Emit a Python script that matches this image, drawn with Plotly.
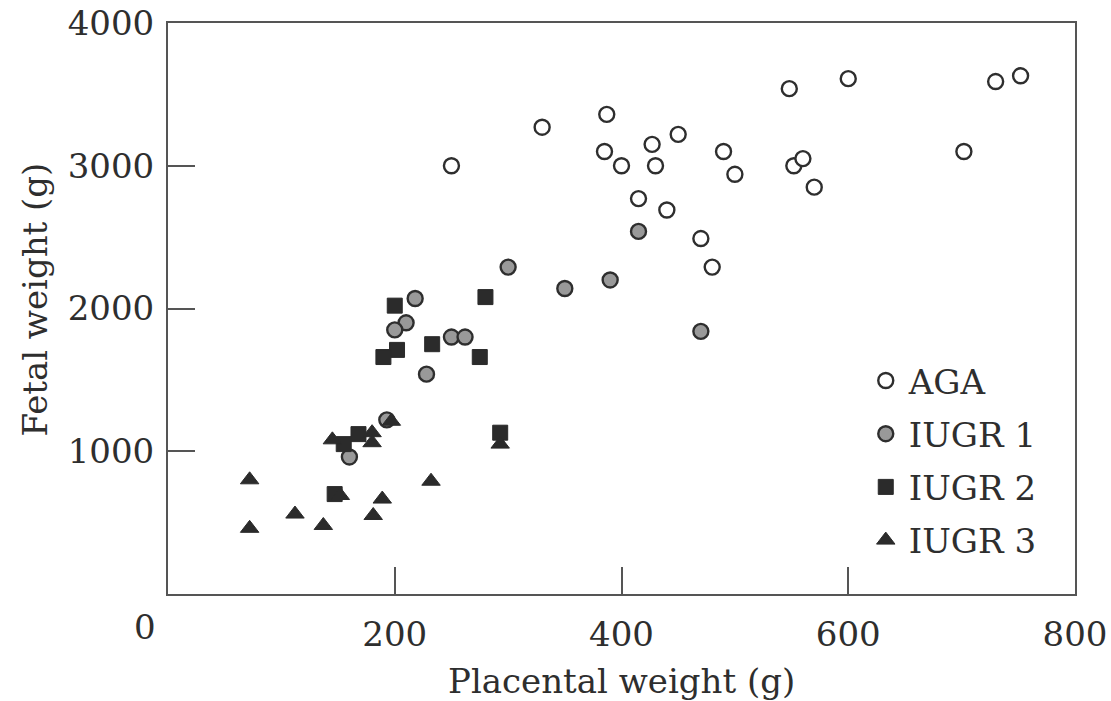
import plotly.graph_objects as go

# AGA (open circles)
aga_x = [250, 330, 387, 385, 400, 427, 430, 450, 490, 500, 415, 440, 470, 480,
         548, 600, 552, 560, 570, 730, 752, 702]
aga_y = [3000, 3270, 3360, 3100, 3000, 3150, 3000, 3220, 3100, 2940, 2770, 2690,
         2490, 2290, 3540, 3610, 3000, 3050, 2850, 3590, 3630, 3100]

# IUGR 1 (grey circles)
iugr1_x = [415, 300, 350, 390, 470, 218, 210, 200, 250, 262, 228, 193, 160]
iugr1_y = [2540, 2290, 2140, 2200, 1840, 2070, 1900, 1850, 1800, 1800, 1540, 1220, 960]

# IUGR 2 (black squares)
iugr2_x = [280, 200, 202, 190, 233, 275, 293, 168, 155, 147]
iugr2_y = [2080, 2020, 1710, 1660, 1750, 1660, 1130, 1120, 1050, 700]

# IUGR 3 (black triangles)
iugr3_x = [197, 293, 145, 180, 180, 72, 72, 112, 137, 152, 189, 181, 232]
iugr3_y = [1210, 1050, 1080, 1130, 1060, 800, 460, 560, 480, 690, 665, 550, 790]

FONT = "DejaVu Serif"
DARK = "#2e2e2e"
FS = 34

fig = go.Figure()
fig.add_trace(go.Scatter(x=aga_x, y=aga_y, mode="markers", name="AGA", legendgroup="a",
                         marker=dict(symbol="circle", size=15, color="white",
                                     line=dict(color=DARK, width=2.4))))
fig.add_trace(go.Scatter(x=iugr1_x, y=iugr1_y, mode="markers", name="IUGR 1", legendgroup="b",
                         marker=dict(symbol="circle", size=15, color="#999999",
                                     line=dict(color=DARK, width=2.4))))
fig.add_trace(go.Scatter(x=iugr2_x, y=iugr2_y, mode="markers", name="IUGR 2", legendgroup="c",
                         marker=dict(symbol="square", size=15, color="#2b2b2b",
                                     line=dict(color="#2b2b2b", width=1))))
fig.add_trace(go.Scatter(x=iugr3_x, y=iugr3_y, mode="markers", name="IUGR 3", legendgroup="d",
                         marker=dict(symbol="triangle-up", size=16, color="#2b2b2b",
                                     line=dict(color="#2b2b2b", width=1))))

fig.update_layout(
    width=1111, height=701,
    margin=dict(l=168, r=36, t=23, b=107, autoexpand=False),
    paper_bgcolor="white", plot_bgcolor="white",
    font=dict(family=FONT, size=FS, color=DARK),
    showlegend=True,
    legend=dict(x=0.766, y=0.424, xanchor="left", yanchor="top",
                bgcolor="rgba(0,0,0,0)", tracegroupgap=6,
                font=dict(family=FONT, size=FS, color=DARK),
                itemwidth=36),
    xaxis=dict(range=[0, 800], tickvals=[200, 400, 600, 800],
               ticktext=["200", "400", "600", "800"], automargin=False,
               showgrid=False, zeroline=False, showline=True, mirror=True,
               linecolor="#555555", linewidth=2,
               ticks="inside", ticklen=27, tickwidth=2, tickcolor="#555555",
               ticklabelstandoff=9),
    yaxis=dict(range=[0, 4000], tickvals=[1000, 2000, 3000, 4000],
               ticktext=["1000", "2000", "3000", "4000"], automargin=False,
               showgrid=False, zeroline=False, showline=True, mirror=True,
               linecolor="#555555", linewidth=2,
               ticks="inside", ticklen=27, tickwidth=2, tickcolor="#555555",
               ticklabelstandoff=5),
)

fig.add_annotation(x=0, y=0, xref="x", yref="y", text="0", showarrow=False,
                   xshift=-23, yshift=-33, font=dict(family=FONT, size=FS, color=DARK))
fig.add_annotation(x=0.5, y=-0.152, xref="paper", yref="paper", text="Placental weight (g)",
                   showarrow=False, xanchor="center", yanchor="middle",
                   font=dict(family=FONT, size=FS, color=DARK))
fig.add_annotation(x=-0.147, y=0.515, xref="paper", yref="paper", text="Fetal weight (g)",
                   showarrow=False, xanchor="center", yanchor="middle", textangle=-90,
                   font=dict(family=FONT, size=FS, color=DARK))

fig.write_html("out.html", config={"displayModeBar": False},
               post_script="document.body.style.margin='0';document.body.style.overflow='hidden';")
